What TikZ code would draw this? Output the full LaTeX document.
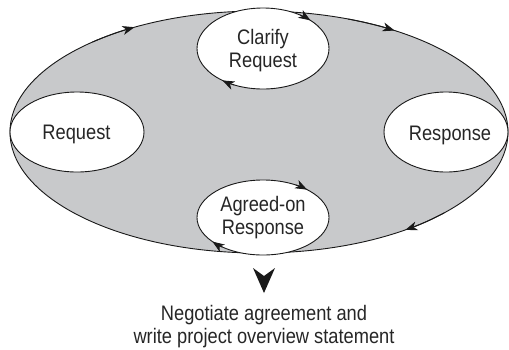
\documentclass[tikz,border=0pt]{standalone}
\usepackage{fontspec}
\setmainfont{Liberation Sans}[FakeStretch=0.87]
\usetikzlibrary{arrows.meta,shapes.geometric}
\definecolor{fillgray}{RGB}{200,201,203}
\newcommand\ellarrow[5]{\draw[flowtip] ({#1+#3*cos(#5-12)},{#2+#4*sin(#5-12)}) arc[start angle=#5-12, end angle=#5, x radius=#3, y radius=#4];}
\begin{document}
\begin{tikzpicture}[x=1pt,y=-1pt,
  lbl/.style={font=\fontsize{21}{23}\selectfont, align=center, inner sep=0pt, text=black!85},
  bigell/.style={ellipse, draw=black!90, line width=0.9pt, fill=fillgray, inner sep=0pt},
  smallell/.style={ellipse, draw=black!90, line width=0.9pt, fill=white, inner sep=0pt},
  flowtip/.style={-{Stealth[length=12pt,width=9pt,inset=3.5pt]}, line width=0.9pt, draw=black!90},
  bigtip/.style={fill=black!90, draw=none}]
\useasboundingbox (0,0) rectangle (509,349);
\node[bigell, minimum width=498pt, minimum height=242pt] (loop) at (259,132) {};
\node[smallell, minimum width=134pt, minimum height=80pt] (reqell) at (77,132) {};
\node[smallell, minimum width=124pt, minimum height=80pt] (resell) at (446,132) {};
\node[smallell, minimum width=132pt, minimum height=81pt] (clarell) at (263,48.5) {};
\node[smallell, minimum width=132pt, minimum height=75pt] (agrell) at (263,217.5) {};
% flow arrows on the big loop
\ellarrow{259}{132}{249}{121}{240}
\ellarrow{259}{132}{249}{121}{303}
\ellarrow{259}{132}{249}{121}{54}
% flow arrows on the small loops
\ellarrow{263}{48.5}{66}{40.5}{316}
\ellarrow{263}{48.5}{66}{40.5}{128}
\ellarrow{263}{217.5}{66}{37.5}{312}
\ellarrow{263}{217.5}{66}{37.5}{140}
% texts
\node[lbl, anchor=base] (req) at (76.5,139) {Request};
\node[lbl, anchor=base] (res) at (450,140) {Response};
\node[lbl] (clar) at (263,51) {Clarify\\Request};
\node[lbl] (agr) at (263,218) {Agreed-on\\Response};
\node[lbl] (neg) at (264,327) {Negotiate agreement and\\write project overview statement};
% big downward arrowhead
\coordinate (tiptop) at (264,276);
\fill[bigtip] (253,268) -- (264,293) -- (275,268) -- (tiptop) -- cycle;
\end{tikzpicture}
\end{document}
